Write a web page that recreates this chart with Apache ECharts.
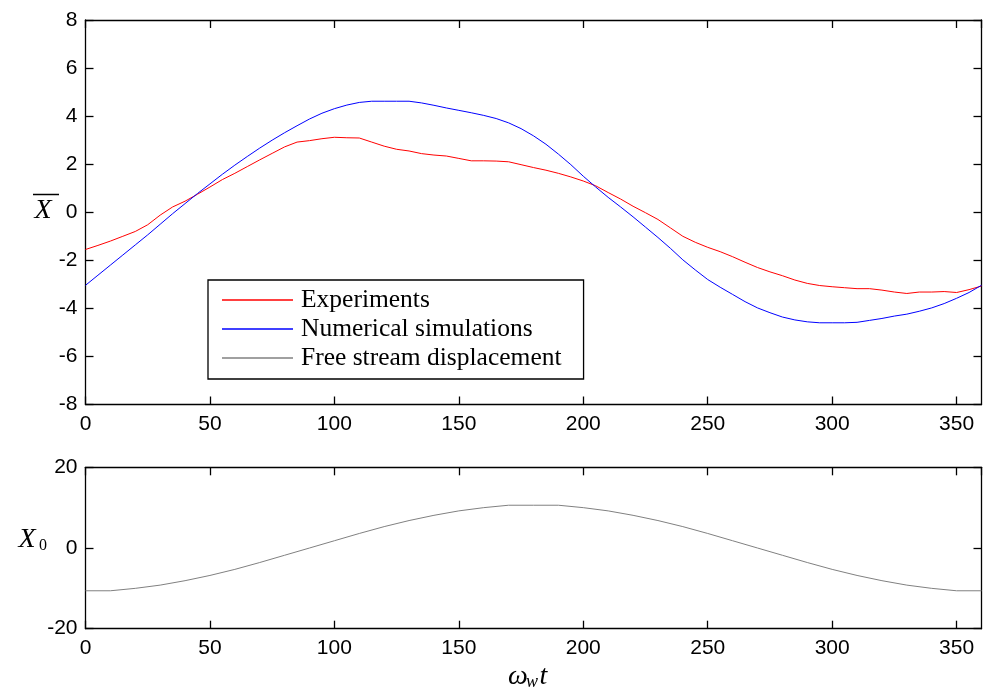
<!DOCTYPE html>
<html>
<head>
<meta charset="utf-8">
<script src="https://cdn.jsdelivr.net/npm/echarts@6/dist/echarts.min.js"></script>
<style>
  html, body { margin: 0; padding: 0; background: #fff; }
  #chart { width: 987px; height: 695px; }
</style>
</head>
<body>
<div id="chart"></div>
<script>
// Phase angle (deg), sampled every 5 degrees for the response curves
const phase = [0, 5, 10, 15, 20, 25, 30, 35, 40, 45, 50, 55, 60, 65, 70, 75, 80, 85, 90, 95,
  100, 105, 110, 115, 120, 125, 130, 135, 140, 145, 150, 155, 160, 165, 170, 175, 180, 185, 190, 195,
  200, 205, 210, 215, 220, 225, 230, 235, 240, 245, 250, 255, 260, 265, 270, 275, 280, 285, 290, 295,
  300, 305, 310, 315, 320, 325, 330, 335, 340, 345, 350, 355, 360];

// Mean displacement, measured
const experiments = [-1.55, -1.38, -1.20, -1.00, -0.80, -0.52, -0.12, 0.22, 0.46, 0.75,
  1.05, 1.36, 1.62, 1.90, 2.18, 2.45, 2.72, 2.92, 2.98, 3.06,
  3.12, 3.10, 3.09, 2.92, 2.75, 2.62, 2.55, 2.44, 2.38, 2.34,
  2.24, 2.14, 2.14, 2.13, 2.10, 1.98, 1.86, 1.75, 1.62, 1.47,
  1.30, 1.10, 0.82, 0.55, 0.25, -0.02, -0.30, -0.65, -1.00, -1.25,
  -1.46, -1.64, -1.85, -2.08, -2.30, -2.48, -2.64, -2.82, -2.96, -3.05,
  -3.10, -3.14, -3.18, -3.18, -3.24, -3.32, -3.38, -3.32, -3.32, -3.30,
  -3.34, -3.22, -3.07];

// Mean displacement, computed
const simulations = [-3.04, -2.62, -2.20, -1.78, -1.36, -0.94, -0.50, -0.06, 0.36, 0.78,
  1.18, 1.58, 1.96, 2.32, 2.67, 3.00, 3.31, 3.60, 3.88, 4.12,
  4.31, 4.46, 4.57, 4.62, 4.62, 4.62, 4.62, 4.55, 4.45, 4.34,
  4.24, 4.14, 4.03, 3.90, 3.72, 3.48, 3.18, 2.83, 2.42, 1.98,
  1.50, 1.05, 0.62, 0.22, -0.19, -0.62, -1.05, -1.50, -1.98, -2.40,
  -2.80, -3.12, -3.42, -3.72, -3.98, -4.18, -4.36, -4.48, -4.56, -4.60,
  -4.60, -4.60, -4.58, -4.50, -4.42, -4.32, -4.24, -4.12, -3.98, -3.80,
  -3.58, -3.34, -3.04];

// Free stream displacement, every 10 degrees
const phaseCoarse = [0, 10, 20, 30, 40, 50, 60, 70, 80, 90, 100, 110, 120, 130, 140, 150, 160, 170, 180,
  190, 200, 210, 220, 230, 240, 250, 260, 270, 280, 290, 300, 310, 320, 330, 340, 350, 360];
const freeStream = [-10.6, -10.6, -10.0, -9.2, -8.1, -6.8, -5.3, -3.6, -1.8, 0.0,
  1.8, 3.6, 5.3, 6.8, 8.1, 9.2, 10.0, 10.6, 10.6,
  10.6, 10.0, 9.2, 8.1, 6.8, 5.3, 3.6, 1.8, 0.0, -1.8,
  -3.6, -5.3, -6.8, -8.1, -9.2, -10.0, -10.6, -10.6];

const seriesNames = ['Experiments', 'Numerical simulations', 'Free stream displacement'];

const pairs = (xs, ys) => xs.map((x, i) => [x, ys[i]]);

const frame = { color: '#000', width: 1.3 };
const tickFont = { color: '#000', fontSize: 21, fontFamily: 'Liberation Sans, Arial, sans-serif' };

function xAx(grid, pos) {
  return {
    gridIndex: grid, type: 'value', position: pos, min: 0, max: 360, interval: 50,
    axisLine: { show: true, onZero: false, lineStyle: frame },
    axisTick: { show: true, inside: true, length: 8, lineStyle: frame },
    axisLabel: pos === 'bottom'
      ? Object.assign({ show: true, margin: 9, showMaxLabel: false }, tickFont)
      : { show: false },
    splitLine: { show: false }
  };
}
function yAx(grid, pos, lo, hi, step) {
  return {
    gridIndex: grid, type: 'value', position: pos, min: lo, max: hi, interval: step,
    axisLine: { show: true, onZero: false, lineStyle: frame },
    axisTick: { show: true, inside: true, length: 8, lineStyle: frame },
    axisLabel: pos === 'left'
      ? Object.assign({ show: true, margin: 8 }, tickFont)
      : { show: false },
    splitLine: { show: false }
  };
}

const serif = 'Liberation Serif, Times New Roman, serif';

const chart = echarts.init(document.getElementById('chart'), null, { renderer: 'canvas' });
chart.setOption({
  animation: false,
  backgroundColor: '#fff',
  grid: [
    { left: 85.5, top: 20, width: 896, height: 384.5 },
    { left: 85.5, top: 467.3, width: 896, height: 161.4 }
  ],
  xAxis: [xAx(0, 'bottom'), xAx(0, 'top'), xAx(1, 'bottom'), xAx(1, 'top')],
  yAxis: [
    yAx(0, 'left', -8, 8, 2), yAx(0, 'right', -8, 8, 2),
    yAx(1, 'left', -20, 20, 20), yAx(1, 'right', -20, 20, 20)
  ],
  legend: {
    data: seriesNames,
    orient: 'vertical',
    left: 208, top: 280,
    icon: 'rect',
    itemWidth: 71, itemHeight: 1.5, itemGap: 0,
    padding: [5.5, 22, 6.5, 14],
    borderColor: '#000', borderWidth: 1.3,
    backgroundColor: '#fff',
    selectedMode: false,
    textStyle: { fontFamily: serif, fontSize: 25.5, color: '#000', lineHeight: 29, padding: [0, 0, 0, 3] }
  },
  series: [
    {
      name: seriesNames[0], type: 'line', xAxisIndex: 0, yAxisIndex: 0,
      data: pairs(phase, experiments), showSymbol: false, symbol: 'none',
      lineStyle: { color: '#ff0000', width: 1 }, itemStyle: { color: '#ff0000' },
      emphasis: { disabled: true }
    },
    {
      name: seriesNames[1], type: 'line', xAxisIndex: 0, yAxisIndex: 0,
      data: pairs(phase, simulations), showSymbol: false, symbol: 'none',
      lineStyle: { color: '#0000ff', width: 1 }, itemStyle: { color: '#0000ff' },
      emphasis: { disabled: true }
    },
    {
      name: seriesNames[2], type: 'line', xAxisIndex: 2, yAxisIndex: 2,
      data: pairs(phaseCoarse, freeStream), showSymbol: false, symbol: 'none',
      lineStyle: { color: '#808080', width: 1 }, itemStyle: { color: '#808080' },
      emphasis: { disabled: true }
    }
  ],
  graphic: [
    // mean displacement symbol with overbar
    { type: 'text', x: 43, y: 211, style: { text: 'X', font: 'italic 28px ' + serif, fill: '#000', textAlign: 'center', textVerticalAlign: 'middle' } },
    { type: 'line', shape: { x1: 33, y1: 194.5, x2: 59, y2: 194.5 }, style: { stroke: '#000', lineWidth: 1.5 } },
    // free stream amplitude symbol
    { type: 'text', x: 27, y: 539.5, style: { text: 'X', font: 'italic 28px ' + serif, fill: '#000', textAlign: 'center', textVerticalAlign: 'middle' } },
    { type: 'text', x: 43, y: 546, style: { text: '0', font: '16px ' + serif, fill: '#000', textAlign: 'center', textVerticalAlign: 'middle' } },
    // horizontal axis title
    { type: 'text', x: 518, y: 677, style: { text: 'ω', font: 'italic 28px ' + serif, fill: '#000', textAlign: 'center', textVerticalAlign: 'middle' } },
    { type: 'text', x: 532, y: 682, style: { text: 'w', font: 'italic 18px ' + serif, fill: '#000', textAlign: 'center', textVerticalAlign: 'middle' } },
    { type: 'text', x: 543.5, y: 677, style: { text: 't', font: 'italic 28px ' + serif, fill: '#000', textAlign: 'center', textVerticalAlign: 'middle' } }
  ]
});
</script>
</body>
</html>
